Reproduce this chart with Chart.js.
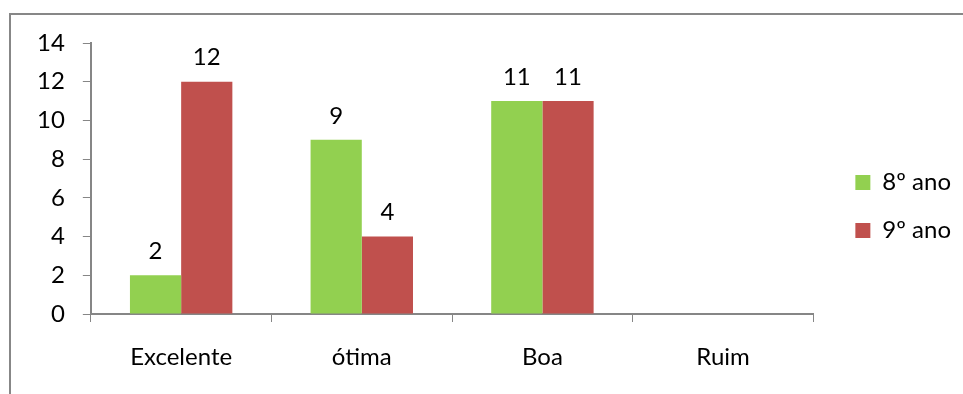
<!DOCTYPE html>
<html>
<head>
<meta charset="utf-8">
<script src="https://cdn.jsdelivr.net/npm/chart.js@4.4.1/dist/chart.umd.min.js"></script>
<style>
  html, body { margin: 0; padding: 0; background: #fff; overflow: hidden; }
  #wrap { position: absolute; left: 0; top: 0; width: 963px; height: 394px; }
  #frame { position: absolute; left: 9px; top: 13px; width: 1000px; height: 420px; border: 2px solid #878787; box-sizing: border-box; }
</style>
</head>
<body>
<div id="frame"></div>
<div id="wrap"><canvas id="chart_avaliacao"></canvas></div>
<script>
var categorias = ['Excelente', 'ótima', 'Boa', 'Ruim'];
var ano8 = [2, 9, 11, null];
var ano9 = [12, 4, 11, null];
var nomesSeries = ['8º ano', '9º ano'];

var fonte = 'Lato, "Open Sans", sans-serif';
Chart.defaults.font.family = fonte;
Chart.defaults.font.size = 24;
Chart.defaults.color = '#000';

var chart_avaliacao = new Chart(document.getElementById('chart_avaliacao'), {
    type: 'bar',
    data: {
        labels: categorias,
        datasets: [
            {
                label: nomesSeries[0],
                data: ano8,
                backgroundColor: '#92D050',
                categoryPercentage: 0.567,
                barPercentage: 1.0
            },
            {
                label: nomesSeries[1],
                data: ano9,
                backgroundColor: '#C0504D',
                categoryPercentage: 0.567,
                barPercentage: 1.0
            }
        ]
    },
    options: {
        animation: false,
        responsive: true,
        maintainAspectRatio: false,
        layout: {
            padding: { left: 19, top: 43, right: 20, bottom: 0 }
        },
        plugins: {
            legend: {
                position: 'right',
                shiftX: 18,
                shiftY: -12,
                labels: {
                    boxWidth: 15,
                    boxHeight: 15,
                    padding: 24,
                    font: { size: 24 }
                }
            },
            tooltip: { enabled: false }
        },
        scales: {
            x: {
                grid: {
                    display: true,
                    drawOnChartArea: false,
                    tickLength: 8,
                    tickColor: '#868686',
                    offset: true
                },
                border: { color: '#868686', width: 2 },
                ticks: { padding: 21 },
                afterFit: (scale) => { scale.height = 80; }
            },
            y: {
                min: 0,
                max: 14,
                grid: {
                    display: true,
                    drawOnChartArea: false,
                    tickLength: 8,
                    tickColor: '#868686'
                },
                border: { color: '#868686', width: 2 },
                ticks: { stepSize: 2, padding: 18 }
            }
        }
    },
    plugins: [{
        id: 'ajusteLegenda',
        afterLayout: (chart) => {
            // Excel leaves a wider gap between plot area and legend
            const lg = chart.legend;
            const o = chart.options.plugins.legend;
            lg.left += o.shiftX || 0;
            lg.right += o.shiftX || 0;
            lg.top += o.shiftY || 0;
            lg.bottom += o.shiftY || 0;
        }
    }, {
        id: 'rotulosValores',
        afterDatasetsDraw: (chart) => {
            const ctx = chart.ctx;
            ctx.save();
            ctx.font = '24px ' + fonte;
            ctx.fillStyle = '#000';
            ctx.textAlign = 'center';
            ctx.textBaseline = 'middle';
            chart.data.datasets.forEach((ds, i) => {
                chart.getDatasetMeta(i).data.forEach((bar, j) => {
                    if (ds.data[j] == null) return;
                    ctx.fillText(String(ds.data[j]), bar.x, bar.y - 24);
                });
            });
            ctx.restore();
        }
    }]
});
</script>
</body>
</html>
